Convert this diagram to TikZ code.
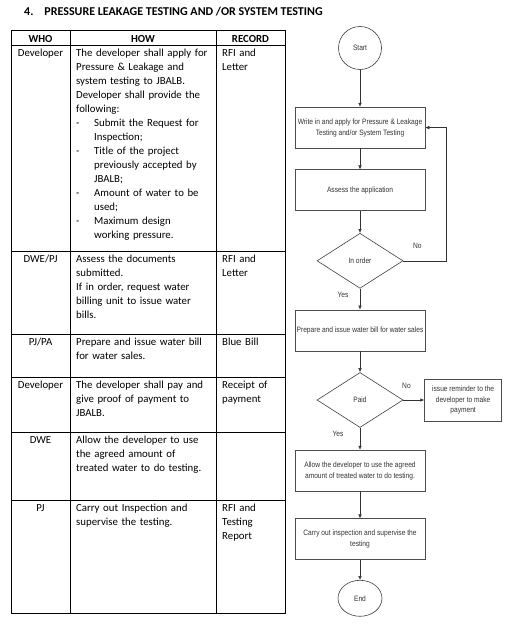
\documentclass[tikz,border=0pt]{standalone}
\usepackage{fontspec}
\setmainfont{Carlito}
\newfontfamily\flowfont[FakeStretch=0.85]{Liberation Sans}
\usetikzlibrary{arrows.meta,positioning,shapes.geometric}
\newcommand{\dashitem}[1]{\makebox[18pt][l]{-}#1}
\newcommand{\dashcont}[1]{\hspace*{18pt}#1}
\tikzset{
 cell/.style={inner sep=0pt,anchor=base west,align=left,font=\fontsize{10.8}{14}\selectfont},
 whocell/.style={inner sep=0pt,anchor=base,font=\fontsize{10.8}{14}\selectfont},
 head/.style={inner sep=0pt,anchor=base,font=\fontsize{10.8}{14}\selectfont\bfseries},
 flowbox/.style={draw=black!70,line width=0.6pt,align=center,minimum width=130pt,
             minimum height=41pt,inner sep=0pt,text=black!80,
             font=\flowfont\fontsize{7.8}{10.8}\selectfont,
             path picture={\draw[line width=1.6pt,black!45]
               (path picture bounding box.south west)--(path picture bounding box.north west);}},
 decision/.style={diamond,draw=black!75,line width=0.6pt,minimum width=86pt,
             minimum height=55pt,inner sep=0pt,text=black!80,
             font=\flowfont\fontsize{7.8}{10.8}\selectfont},
 terminal/.style={ellipse,draw=black!75,line width=0.6pt,inner sep=0pt,text=black!80,
             font=\flowfont\fontsize{7.8}{10.8}\selectfont},
 lbl/.style={inner sep=0pt,text=black!80,font=\flowfont\fontsize{7.8}{10.8}\selectfont},
 arrow/.style={-{Latex[length=4pt,width=3.5pt]},draw=black!80,line width=0.5pt}
}

\begin{document}
\begin{tikzpicture}[x=1pt,y=-1pt,node distance=21pt]
\path[fill=white] (0,0) rectangle (524,642);
\useasboundingbox (0,0) rectangle (524,642);

% title
\node[inner sep=0pt,anchor=base west,font=\fontsize{12}{14}\selectfont\bfseries]
  (title) at (24,16) {4.\hspace{11pt}PRESSURE LEAKAGE TESTING AND /OR SYSTEM TESTING};

% table grid
\draw[line width=0.8pt] (11,30) rectangle (285,613);
\draw[line width=0.8pt] (70,30) -- (70,613) (216,30) -- (216,613);
\foreach \y in {45,251,334,377,432,500}
  \draw[line width=0.8pt] (11,\y) -- (285,\y);

% header
\node[head] (hwho) at (40.5,43) {WHO};
\node[head] (hhow) at (143,43) {HOW};
\node[head] (hrec) at (250.5,43) {RECORD};

% rows
\node[whocell] (who1) at (40.5,56.3) {Developer};
\node[cell,text width=138pt] (how1) at (76,56.3) {The developer shall apply for\\
  Pressure \& Leakage and\\ system testing to JBALB.\\ Developer shall provide the\\
  following:\\ \dashitem{Submit the Request for}\\ \dashcont{Inspection;}\\
  \dashitem{Title of the project}\\ \dashcont{previously accepted by}\\ \dashcont{JBALB;}\\
  \dashitem{Amount of water to be}\\ \dashcont{used;}\\
  \dashitem{Maximum design}\\ \dashcont{working pressure.}};
\node[cell,text width=60pt] (rec1) at (222,56.3) {RFI and\\ Letter};

\node[whocell] (who2) at (40.5,262.3) {DWE/PJ};
\node[cell,text width=138pt] (how2) at (76,262.3) {Assess the documents\\ submitted.\\
  If in order, request water\\ billing unit to issue water\\ bills.};
\node[cell,text width=60pt] (rec2) at (222,262.3) {RFI and\\ Letter};

\node[whocell] (who3) at (40.5,345.3) {PJ/PA};
\node[cell,text width=138pt] (how3) at (76,345.3) {Prepare and issue water bill\\ for water sales.};
\node[cell,text width=60pt] (rec3) at (222,345.3) {Blue Bill};

\node[whocell] (who4) at (40.5,388.3) {Developer};
\node[cell,text width=138pt] (how4) at (76,388.3) {The developer shall pay and\\
  give proof of payment to\\ JBALB.};
\node[cell,text width=60pt] (rec4) at (222,388.3) {Receipt of\\ payment};

\node[whocell] (who5) at (40.5,443.3) {DWE};
\node[cell,text width=138pt] (how5) at (76,443.3) {Allow the developer to use\\
  the agreed amount of\\ treated water to do testing.};

\node[whocell] (who6) at (40.5,511.3) {PJ};
\node[cell,text width=138pt] (how6) at (76,511.3) {Carry out Inspection and\\ supervise the testing.};
\node[cell,text width=60pt] (rec6) at (222,511.3) {RFI and\\ Testing\\ Report};

% flowchart
\node[terminal,minimum width=43pt,minimum height=43pt] (start) at (360,48) {Start};
\node[flowbox,below=37pt of start] (apply) {Write in and apply for Pressure \& Leakage\\
  Testing and/or System Testing};
\node[flowbox,below=of apply] (assess) {Assess the application};
\node[decision,below=22pt of assess] (inorder) {In order};
\node[flowbox,below=of inorder] (bill) {Prepare and issue water bill for water sales};
\node[decision,below=of bill] (paid) {Paid};
\node[flowbox,minimum width=77pt,minimum height=42pt,right=21pt of paid] (remind)
  {issue reminder to the\\ developer to make\\ payment};
\node[flowbox,below=22pt of paid] (allow) {Allow the developer to use the agreed\\
  amount of treated water to do testing.};
\node[flowbox,below=27pt of allow] (inspect) {Carry out inspection and supervise the\\ testing};
\node[terminal,minimum width=44pt,minimum height=36pt,below=20pt of inspect] (end) {End};
\coordinate (loopx) at (446,0);

\draw[arrow] (start) -- (apply);
\draw[arrow] (apply) -- (assess);
\draw[arrow] (assess) -- (inorder);
\draw[arrow] (inorder) -- node[lbl,pos=0.3,xshift=-17pt]{Yes} (bill);
\draw[arrow] (inorder.east) -- node[lbl,pos=0.33,yshift=15pt]{No} (inorder.east -| loopx)
  |- (apply.east);
\draw[arrow] (bill) -- (paid);
\draw[arrow] (paid) -- node[lbl,pos=0.15,yshift=14pt]{No} (remind);
\draw[arrow] (paid) -- node[lbl,pos=0.27,xshift=-22pt]{Yes} (allow);
\draw[arrow] (allow) -- (inspect);
\draw[arrow] (inspect) -- (end);
\end{tikzpicture}
\end{document}
